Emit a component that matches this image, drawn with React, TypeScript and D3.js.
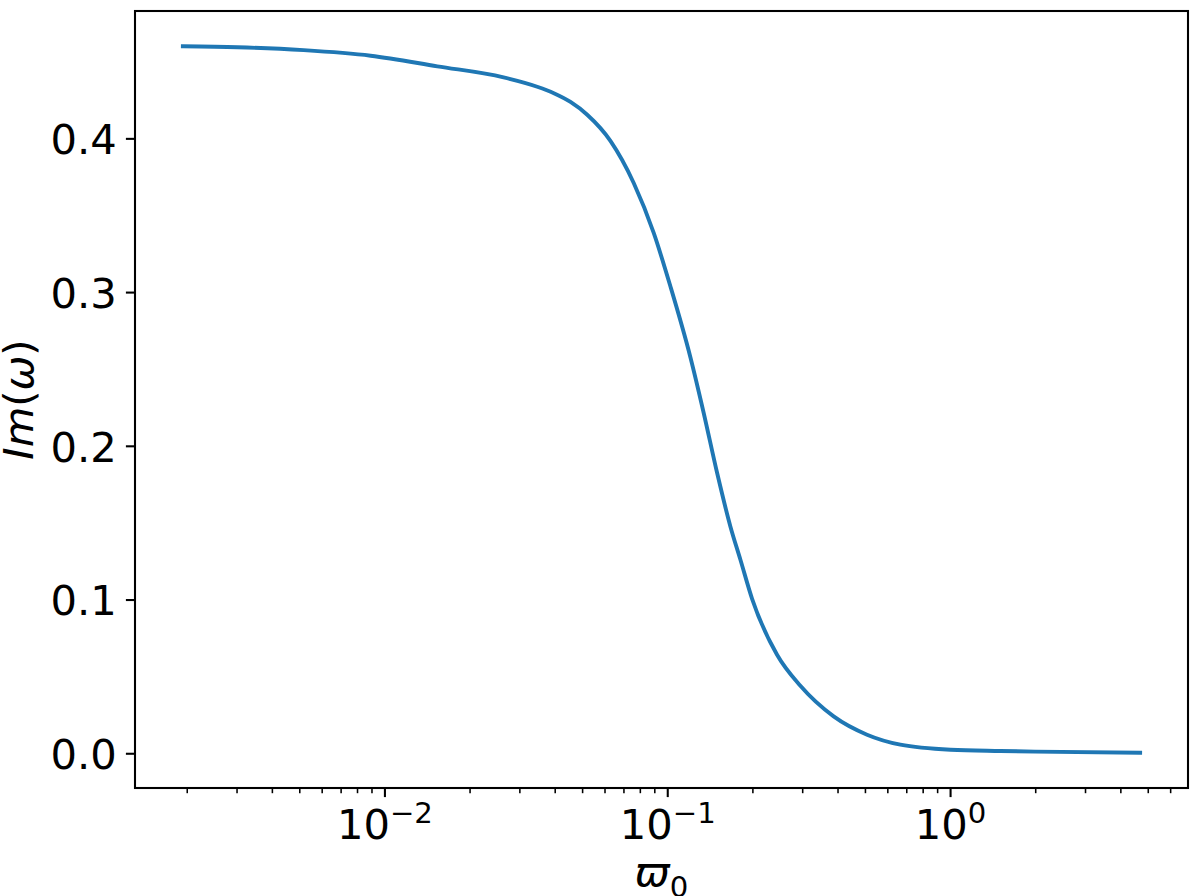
import React from 'react';
import * as d3 from 'd3';

// values
const omega0 = [
  0.00193, 0.00301, 0.00516, 0.0089, 0.01532, 0.02627, 0.03455, 0.03956, 0.0453,
  0.0519, 0.0627, 0.0758, 0.0892, 0.1022, 0.1203, 0.134, 0.1495, 0.1665, 0.1807,
  0.1987, 0.2435, 0.2944, 0.386, 0.5065, 0.6643, 1.0, 1.5, 1.99, 4.68,
];
const imOmega = [
  0.4602, 0.4596, 0.4577, 0.4541, 0.4472, 0.44, 0.4339, 0.4297, 0.424,
  0.4157, 0.3987, 0.3713, 0.3388, 0.304, 0.2578, 0.2217, 0.1826, 0.1479, 0.1262,
  0.1008, 0.0644, 0.0442, 0.0243, 0.0124, 0.0059, 0.0026, 0.0018, 0.0014, 0.0007,
];
const yTicks = [0.0, 0.1, 0.2, 0.3, 0.4];

const W = 1200;
const H = 896;
const left = 135;
const right = 1188;
const top = 11;
const bottom = 788;

const FONT = 'DejaVu Sans';
const FS = 41.67;
const SUB = FS * 0.7;
const BLUE = '#1f77b4';

export default function App() {
  // matplotlib-like 5% margins
  const lx = d3.extent(omega0.map(Math.log10)) as [number, number];
  const px = (lx[1] - lx[0]) * 0.05;
  const x = d3
    .scaleLog()
    .domain([Math.pow(10, lx[0] - px), Math.pow(10, lx[1] + px)])
    .range([left, right]);

  const ey = d3.extent(imOmega) as [number, number];
  const py = (ey[1] - ey[0]) * 0.05;
  const y = d3
    .scaleLinear()
    .domain([ey[0] - py, ey[1] + py])
    .range([bottom, top]);

  const pts = omega0.map((d, i) => [d, imOmega[i]] as [number, number]);
  const line = d3
    .line<[number, number]>()
    .x((d) => x(d[0]))
    .y((d) => y(d[1]))
    .curve(d3.curveMonotoneX);

  const allTicks = x.ticks();
  const isMajor = (v: number) => Math.abs(Math.log10(v) - Math.round(Math.log10(v))) < 1e-9;
  const majors = allTicks.filter(isMajor);
  const minors = allTicks.filter((v) => !isMajor(v));

  return (
    <svg
      width={W}
      height={H}
      style={{ position: 'absolute', left: 0, top: 0, display: 'block' }}
      fontFamily={FONT}
    >
      <rect width={W} height={H} fill="#fff" />

      <path
        d={line(pts) || ''}
        fill="none"
        stroke={BLUE}
        strokeWidth={3.9}
        strokeLinecap="square"
        strokeLinejoin="round"
      />

      {/* x ticks */}
      {minors.map((v) => (
        <line key={'m' + v} x1={x(v)} x2={x(v)} y1={bottom} y2={bottom + 5.2} stroke="#000" strokeWidth={1.56} />
      ))}
      {majors.map((v) => {
        const e = Math.round(Math.log10(v));
        return (
          <g key={'M' + v}>
            <line x1={x(v)} x2={x(v)} y1={bottom} y2={bottom + 9.1} stroke="#000" strokeWidth={2.08} />
            <text x={x(v)} y={839} fontSize={FS} textAnchor="middle" fill="#000">
              10
              <tspan fontSize={SUB} dy={-16}>
                {e < 0 ? '\u2212' + Math.abs(e) : String(e)}
              </tspan>
            </text>
          </g>
        );
      })}

      {/* y ticks */}
      {yTicks.map((v) => (
        <g key={'y' + v}>
          <line x1={left - 9.1} x2={left} y1={y(v)} y2={y(v)} stroke="#000" strokeWidth={2.08} />
          <text x={left - 18.2} y={y(v) + 15.2} fontSize={FS} textAnchor="end" fill="#000">
            {v.toFixed(1)}
          </text>
        </g>
      ))}

      {/* frame */}
      <rect
        x={left}
        y={top}
        width={right - left}
        height={bottom - top}
        fill="none"
        stroke="#000"
        strokeWidth={2.08}
        strokeLinejoin="miter"
      />

      {/* axis labels */}
      <text x={(left + right) / 2} y={886} fontSize={FS} textAnchor="middle" fill="#000">
        <tspan fontStyle="italic">ϖ</tspan>
        <tspan fontSize={SUB} dy={11}>0</tspan>
      </text>
      <text
        transform={`translate(33, ${(top + bottom) / 2}) rotate(-90)`}
        fontSize={FS}
        textAnchor="middle"
        fill="#000"
      >
        <tspan fontStyle="italic">Im</tspan>
        <tspan>(</tspan>
        <tspan fontStyle="italic">ω</tspan>
        <tspan>)</tspan>
      </text>
    </svg>
  );
}
